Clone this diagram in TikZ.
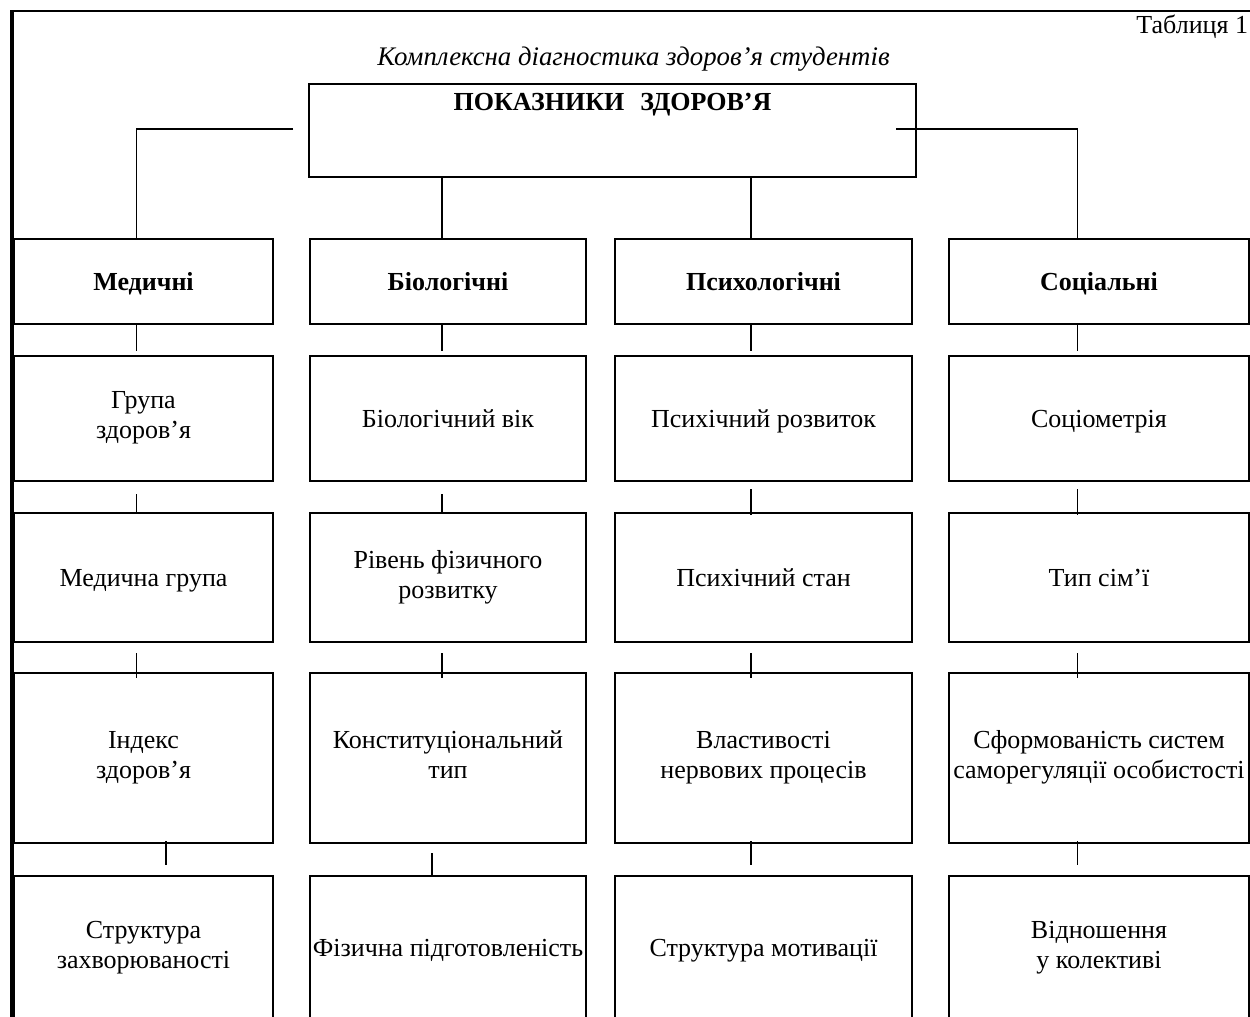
\documentclass[tikz,border=0pt]{standalone}
\usepackage{fontspec}
\setmainfont{Liberation Serif}
\newcommand\dgfont{\fontsize{13}{15}\selectfont}
\newcommand\dgstrut{\rule[-3.2pt]{0pt}{15pt}}
\begin{document}
\begin{tikzpicture}[x=0.5pt,y=-0.5pt,
  every node/.style={font=\dgfont, inner sep=0pt, outer sep=0pt},
  box/.style={draw, line width=1.1pt, align=center,
    execute at begin node=\dgstrut, execute at end node=\dgstrut},
  cA/.style={minimum width=129.5pt},
  cB/.style={minimum width=138pt},
  cC/.style={minimum width=148.5pt},
  cD/.style={minimum width=150pt},
  rA/.style={minimum height=42.5pt, font=\dgfont\bfseries},
  rB/.style={minimum height=62.5pt},
  rC/.style={minimum height=64.5pt},
  rD/.style={minimum height=85pt},
  rE/.style={minimum height=72pt},
  link/.style={line width=0.8pt}
]
\useasboundingbox (0,0) rectangle (1250,1017);
% outer frame
\draw[line width=1.1pt] (11,11) -- (1252,11);
\draw[line width=1.6pt] (12,10) -- (12,1022);

% captions
\node[anchor=base east] (tab) at (1248,33) {Таблиця 1};
\node[anchor=base, font=\fontsize{13.4}{15}\selectfont\itshape] (title) at (633.5,65) {Комплексна діагностика здоров’я студентів};

% top box
\node[draw, line width=1.1pt, minimum width=303.5pt, minimum height=46.5pt,
  label={[anchor=base, yshift=-13pt, font=\dgfont\bfseries]north:ПОКАЗНИКИ\hspace{8pt}ЗДОРОВ’Я}]
  (top) at (612.5,130.5) {};

% column x of connectors
\coordinate (X1) at (136.5,0);
\coordinate (X2) at (442,0);
\coordinate (X3) at (751,0);
\coordinate (X4) at (1077.5,0);
\coordinate (X1b) at (166,0);
\coordinate (X2b) at (432,0);

% row 1
\node[box, cA, rA] (m1) at (143.5,281.5) {Медичні};
\node[box, cB, rA] (b1) at (448,281.5) {Біологічні};
\node[box, cC, rA] (p1) at (763.5,281.5) {Психологічні};
\node[box, cD, rA] (s1) at (1099,281.5) {Соціальні};
% row 2
\node[box, cA, rB] (m2) at (143.5,418.5) {Група\\здоров’я};
\node[box, cB, rB] (b2) at (448,418.5) {Біологічний вік};
\node[box, cC, rB] (p2) at (763.5,418.5) {Психічний розвиток};
\node[box, cD, rB] (s2) at (1099,418.5) {Соціометрія};
% row 3
\node[box, cA, rC] (m3) at (143.5,577.5) {Медична група};
\node[box, cB, rC] (b3) at (448,577.5) {Рівень фізичного\\розвитку};
\node[box, cC, rC] (p3) at (763.5,577.5) {Психічний стан};
\node[box, cD, rC] (s3) at (1099,577.5) {Тип сім’ї};
% row 4
\node[box, cA, rD] (m4) at (143.5,758) {Індекс\\здоров’я};
\node[box, cB, rD] (b4) at (448,758) {Конституціональний\\тип};
\node[box, cC, rD] (p4) at (763.5,758) {Властивості\\нервових процесів};
\node[box, cD, rD] (s4) at (1099,758) {Сформованість систем\\саморегуляції особистості};
% row 5
\node[box, cA, rE] (m5) at (143.5,948) {Структура\\захворюваності};
\node[box, cB, rE] (b5) at (448,948) {Фізична підготовленість};
\node[box, cC, rE] (p5) at (763.5,948) {Структура мотивації};
\node[box, cD, rE] (s5) at (1099,948) {Відношення\\у колективі};

% connectors from the top box
\coordinate (hl) at (293,129);
\coordinate (hr) at (896,129);
\draw[link] (hl) -| (m1.north -| X1);
\draw[link] (hr) -| (s1.north -| X4);
\draw[link] (top.south -| X2) -- (b1.north -| X2);
\draw[link] (top.south -| X3) -- (p1.north -| X3);

% row1 -> row2
\draw[link, shorten <=0.5pt, shorten >=2.5pt] (m1.south -| X1) -- (m2.north -| X1);
\draw[link, shorten <=0.5pt, shorten >=2.5pt] (b1.south -| X2) -- (b2.north -| X2);
\draw[link, shorten <=0.5pt, shorten >=2.5pt] (p1.south -| X3) -- (p2.north -| X3);
\draw[link, shorten <=0.5pt, shorten >=2.5pt] (s1.south -| X4) -- (s2.north -| X4);
% row2 -> row3
\draw[link, shorten <=6.5pt] (m2.south -| X1) -- (m3.north -| X1);
\draw[link, shorten <=6.5pt] (b2.south -| X2) -- (b3.north -| X2);
\draw[link, shorten <=4pt, shorten >=-1pt] (p2.south -| X3) -- (p3.north -| X3);
\draw[link, shorten <=4pt, shorten >=-1pt] (s2.south -| X4) -- (s3.north -| X4);
% row3 -> row4
\draw[link, shorten <=5.5pt, shorten >=-2.5pt] (m3.south -| X1) -- (m4.north -| X1);
\draw[link, shorten <=5.5pt, shorten >=-2.5pt] (b3.south -| X2) -- (b4.north -| X2);
\draw[link, shorten <=5.5pt, shorten >=-2.5pt] (p3.south -| X3) -- (p4.north -| X3);
\draw[link, shorten <=5.5pt, shorten >=-2.5pt] (s3.south -| X4) -- (s4.north -| X4);
% row4 -> row5
\draw[link, shorten <=-1pt, shorten >=5.5pt] (m4.south -| X1b) -- (m5.north -| X1b);
\draw[link, shorten <=5pt, shorten >=-0.5pt] (b4.south -| X2b) -- (b5.north -| X2b);
\draw[link, shorten <=-1pt, shorten >=5.5pt] (p4.south -| X3) -- (p5.north -| X3);
\draw[link, shorten <=-1pt, shorten >=5.5pt] (s4.south -| X4) -- (s5.north -| X4);
\end{tikzpicture}
\end{document}
